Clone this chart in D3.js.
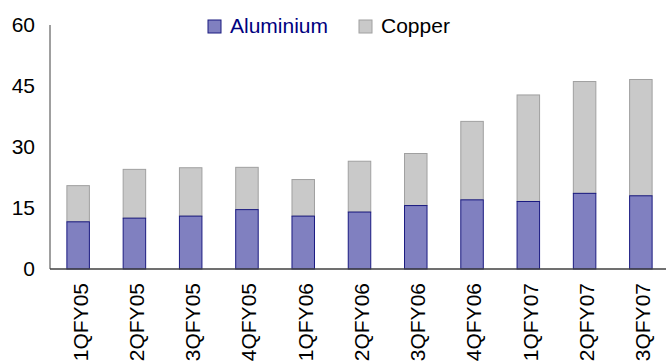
<!DOCTYPE html>
<html lang="en">
<head>
  <meta charset="UTF-8" />
  <title>Aluminium and Copper</title>
  <script src="https://d3js.org/d3.v7.min.js"></script>
  <style>
    body { margin: 0; padding: 0; background: #fff; }
    svg { display: block; font-family: "Liberation Sans", Arial, sans-serif; }
  </style>
</head>
<body>
  <svg width="666" height="362"></svg>
  <script>
    const quarters = ["1QFY05", "2QFY05", "3QFY05", "4QFY05", "1QFY06", "2QFY06",
      "3QFY06", "4QFY06", "1QFY07", "2QFY07", "3QFY07"];
    const aluminium = [11.6, 12.5, 13.0, 14.6, 13.0, 14.0, 15.6, 17.0, 16.6, 18.6, 18.0];
    const copper = [8.9, 12.0, 11.9, 10.4, 9.0, 12.5, 12.8, 19.3, 26.2, 27.5, 28.6];
    const yTicks = [0, 15, 30, 45, 60];

    const svg = d3.select("svg");
    const plotLeft = 50, plotRight = 669, plotTop = 25, plotBottom = 269;
    const fontSize = 21;

    const x = d3.scaleBand()
      .domain(quarters)
      .range([plotLeft, plotRight])
      .paddingInner(0.6)
      .paddingOuter(0.3);

    const y = d3.scaleLinear()
      .domain([0, 60])
      .range([plotBottom, plotTop]);

    const rows = quarters.map((q, i) => ({ q, alu: aluminium[i], cu: copper[i] }));

    // copper on top of aluminium
    svg.append("g").selectAll("rect")
      .data(rows)
      .join("rect")
      .attr("x", d => x(d.q))
      .attr("width", x.bandwidth())
      .attr("y", d => y(d.alu + d.cu))
      .attr("height", d => y(d.alu) - y(d.alu + d.cu))
      .attr("fill", "#c9c9c9")
      .attr("stroke", "#a0a0a0")
      .attr("stroke-width", 1);

    svg.append("g").selectAll("rect")
      .data(rows)
      .join("rect")
      .attr("x", d => x(d.q))
      .attr("width", x.bandwidth())
      .attr("y", d => y(d.alu))
      .attr("height", d => y(0) - y(d.alu))
      .attr("fill", "#8080c0")
      .attr("stroke", "#1a1a80")
      .attr("stroke-width", 1);

    // y axis
    const yAxis = svg.append("g")
      .attr("transform", `translate(${plotLeft},0)`)
      .call(d3.axisLeft(y).tickValues(yTicks).tickSize(0).tickPadding(15));
    yAxis.select(".domain").attr("stroke", "#404040").attr("d", `M0,${plotTop}V${plotBottom}`);
    yAxis.selectAll("text")
      .attr("font-size", fontSize)
      .attr("font-family", "Liberation Sans, Arial, sans-serif")
      .attr("fill", "#000");

    // x axis
    const xAxis = svg.append("g")
      .attr("transform", `translate(0,${plotBottom})`)
      .call(d3.axisBottom(x).tickSize(0));
    xAxis.select(".domain").attr("stroke", "#404040").attr("stroke-width", 1.5)
      .attr("d", `M${plotLeft},0H666`);
    xAxis.selectAll("text")
      .attr("font-size", fontSize)
      .attr("font-family", "Liberation Sans, Arial, sans-serif")
      .attr("fill", "#000")
      .attr("text-anchor", "end")
      .attr("transform", "translate(0,14) rotate(-90)")
      .attr("x", 0)
      .attr("y", 0)
      .attr("dy", "0.45em");

    // legend
    const legend = [
      { name: "Aluminium", fill: "#8080c0", stroke: "#1a1a80", text: "#000080", x: 208 },
      { name: "Copper", fill: "#c9c9c9", stroke: "#a0a0a0", text: "#000", x: 359 }
    ];
    const lg = svg.append("g").selectAll("g")
      .data(legend)
      .join("g")
      .attr("transform", d => `translate(${d.x},20)`);
    lg.append("rect")
      .attr("width", 13).attr("height", 13)
      .attr("fill", d => d.fill)
      .attr("stroke", d => d.stroke);
    lg.append("text")
      .attr("x", 22).attr("y", 12.5)
      .attr("font-size", fontSize)
      .attr("fill", d => d.text)
      .text(d => d.name);
  </script>
</body>
</html>
